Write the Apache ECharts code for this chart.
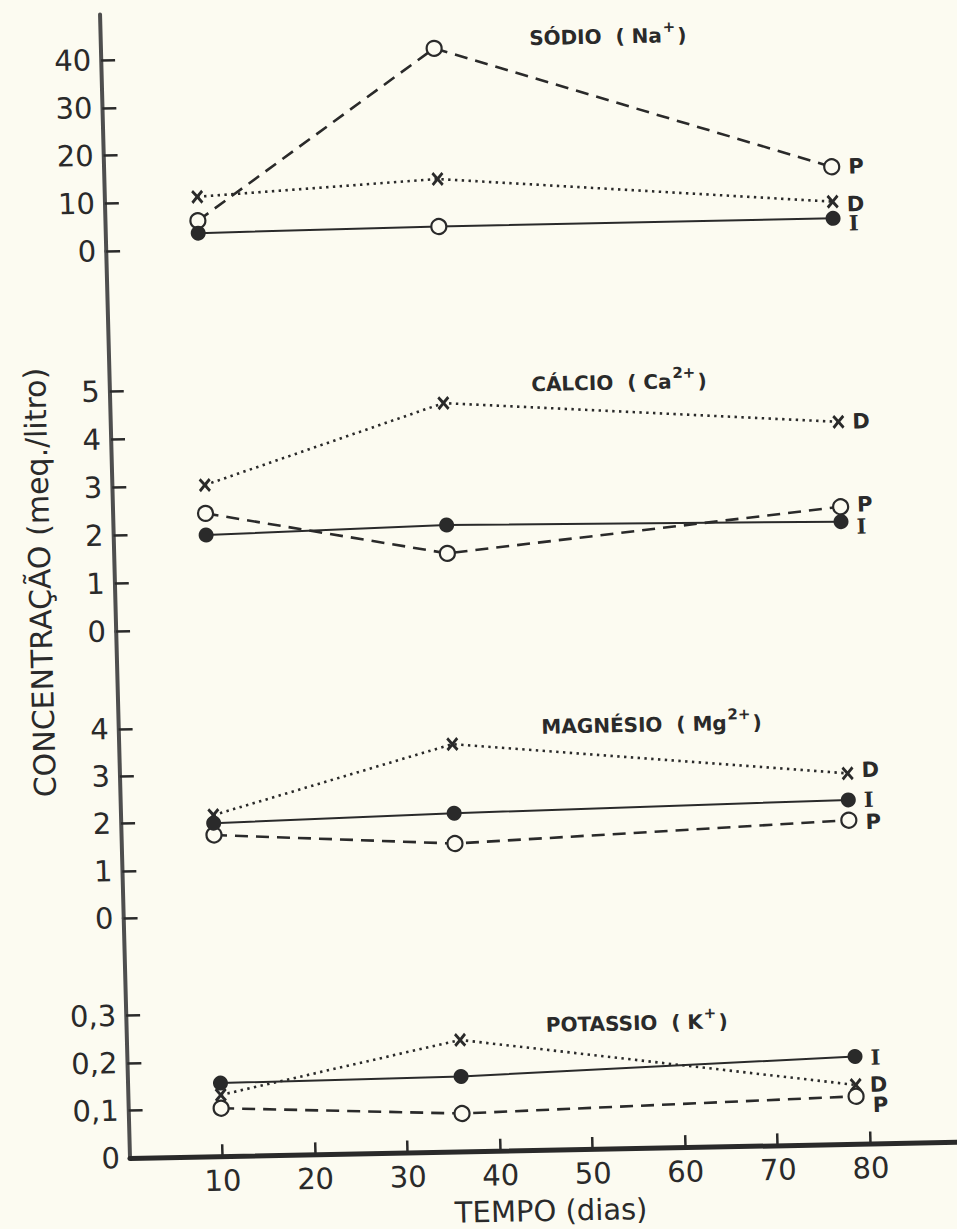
<!DOCTYPE html>
<html><head><meta charset="utf-8">
<script src="https://cdn.jsdelivr.net/npm/echarts@6/dist/echarts.min.js"></script>
<style>
html,body{margin:0;padding:0;background:#fcfbf1;width:957px;height:1229px;overflow:hidden;position:relative;}
#c{position:absolute;left:0;top:0;width:1010px;height:1270px;transform-origin:129px 1158px;transform:matrix(1,-0.0195,0.0262,1,0,0);}
</style></head><body><div id="c"></div>
<script>
// ---- data ----
const days = [10, 36, 78.6];
const xTicks = [10, 20, 30, 40, 50, 60, 70, 80];
const seriesNames = ['D', 'P', 'I'];

const sodioI = [3.4, 3.8, 3.9];
const sodioD = [11.0, 13.75, 7.4];
const sodioP = [6.0, 41.1, 14.7];
const sodioTicks = [0, 10, 20, 30, 40];

const calcioI = [1.97, 2.08, 1.99];
const calcioD = [3.01, 4.62, 4.07];
const calcioP = [2.42, 1.49, 2.30];
const calcioTicks = [0, 1, 2, 3, 4, 5];

const magnesioI = [1.97, 2.08, 2.20];
const magnesioD = [2.14, 3.54, 2.76];
const magnesioP = [1.72, 1.44, 1.77];
const magnesioTicks = [0, 1, 2, 3, 4];

const potassioI = [0.154, 0.158, 0.184];
const potassioD = [0.129, 0.235, 0.124];
const potassioP = [0.101, 0.080, 0.100];
const potassioTicks = [0, 0.1, 0.2, 0.3];

// title parts: [element name, symbol, charge]
const panelTitles = [['SÓDIO', 'Na', '+'], ['CÁLCIO', 'Ca', '2+'], ['MAGNÉSIO', 'Mg', '2+'], ['POTASSIO', 'K', '+']];
const yTitle = 'CONCENTRAÇÃO (meq./litro)';
const xTitle = 'TEMPO (dias)';

const panelData = [
  {I: sodioI, D: sodioD, P: sodioP, ticks: sodioTicks},
  {I: calcioI, D: calcioD, P: calcioP, ticks: calcioTicks},
  {I: magnesioI, D: magnesioD, P: magnesioP, ticks: magnesioTicks},
  {I: potassioI, D: potassioD, P: potassioP, ticks: potassioTicks}
];

// ---- layout / style ----
const INK = '#2a2a2a', AX = '#4e4e4e', BG = '#fcfbf1', FONT = 'DejaVu Sans';
const layout = [
  {top: 14.4, height: 236.8, max: 49.57, title: [637, 43.4], lab: {P: 0, D: 3, I: 5}},
  {top: 251.2, height: 380.2, max: 7.92, title: [639, 389.4], lab: {D: 0, P: -2, I: 5}},
  {top: 631.4, height: 286.8, max: 6.06, title: [662.7, 731.9], lab: {D: -3, I: 0, P: 2}},
  {top: 918.2, height: 239.8, max: 0.5052, title: [640, 1030], lab: {I: 1, D: 0, P: 9}}
];
const XPATH = 'path://M0,1.6L1.6,0L5,3.4L8.4,0L10,1.6L6.6,5L10,8.4L8.4,10L5,6.6L1.6,10L0,8.4L3.4,5Z';
const styles = {
  I: {symbol: 'circle', symbolSize: 15, itemStyle: {color: INK}, lineStyle: {color: INK, width: 2, type: 'solid'}},
  P: {symbol: 'circle', symbolSize: 15, itemStyle: {color: BG, borderColor: INK, borderWidth: 2.2}, lineStyle: {color: INK, width: 2.6, type: [13, 8]}},
  D: {symbol: XPATH, symbolSize: [12, 14], itemStyle: {color: INK}, lineStyle: {color: INK, width: 2.6, type: [2.4, 4.4]}}
};

const grids = [], xAxes = [], yAxes = [], series = [], graphics = [];
layout.forEach((L, g) => {
  grids.push({left: 129.84, width: 851.5, top: L.top, height: L.height, containLabel: false});
  xAxes.push({
    gridIndex: g, type: 'value', min: 0, max: 92, show: g === 3,
    axisLine: {show: true, lineStyle: {color: INK, width: 5}},
    axisTick: {show: true, inside: true, length: 12, lineStyle: {color: INK, width: 2.5}, customValues: xTicks},
    axisLabel: {customValues: xTicks, fontSize: 29, fontFamily: FONT, color: INK, margin: 10},
    splitLine: {show: false}
  });
  const ticks = panelData[g].ticks;
  yAxes.push({
    gridIndex: g, type: 'value', min: 0, max: L.max,
    axisLine: {show: true, lineStyle: {color: AX, width: 4}},
    axisTick: {show: true, inside: true, length: 14, lineStyle: {color: INK, width: 2.5}, customValues: ticks},
    axisLabel: {customValues: ticks, fontSize: 29, fontFamily: FONT, color: INK, margin: 10,
      formatter: v => String(v).replace('.', ',')},
    splitLine: {show: false}
  });
  seriesNames.forEach(name => {
    const vals = panelData[g][name];
    const st = styles[name];
    const data = days.map((d, i) => {
      const item = {value: [d, vals[i]]};
      if (g === 0 && name === 'I' && i === 1) {
        item.itemStyle = {color: BG, borderColor: INK, borderWidth: 2.2};
      }
      if (i === days.length - 1) {
        item.label = {show: true, formatter: name, position: 'right', distance: 8, offset: [0, L.lab[name]],
          fontSize: 21, fontWeight: 'bold', color: INK,
          fontFamily: name === 'I' ? 'DejaVu Serif' : FONT};
      }
      return item;
    });
    series.push({
      type: 'line', name: name, xAxisIndex: g, yAxisIndex: g, data: data,
      symbol: st.symbol, symbolSize: st.symbolSize, itemStyle: st.itemStyle, lineStyle: st.lineStyle,
      showSymbol: true, silent: true, animation: false, z: name === 'I' ? 5 : 3
    });
  });
  const t = panelTitles[g];
  graphics.push({type: 'text', x: L.title[0], y: L.title[1],
    style: {
      text: '{m|' + t[0] + '  ( ' + t[1] + '}{s|' + t[2] + '}{m|)}',
      rich: {
        m: {fontSize: 20, fontWeight: 'bold', fontFamily: FONT, fill: INK, lineHeight: 26, verticalAlign: 'bottom'},
        s: {fontSize: 15, fontWeight: 'bold', fontFamily: FONT, fill: INK, lineHeight: 26, verticalAlign: 'top', padding: [0, 2, 0, 1]}
      },
      textAlign: 'center', textVerticalAlign: 'middle'
    }});
});
graphics.push({type: 'text', x: 55.1, y: 581.1, rotation: Math.PI / 2,
  style: {text: yTitle, fontSize: 30, fontFamily: FONT, fill: INK, textAlign: 'center', textVerticalAlign: 'middle'}});
graphics.push({type: 'text', x: 549.5, y: 1219,
  style: {text: xTitle, fontSize: 29, fontFamily: FONT, fill: INK, textAlign: 'center', textVerticalAlign: 'middle'}});

const chart = echarts.init(document.getElementById('c'), null, {renderer: 'svg'});
chart.setOption({
  backgroundColor: BG,
  animation: false,
  grid: grids, xAxis: xAxes, yAxis: yAxes, series: series, graphic: graphics
});
</script></body></html>
